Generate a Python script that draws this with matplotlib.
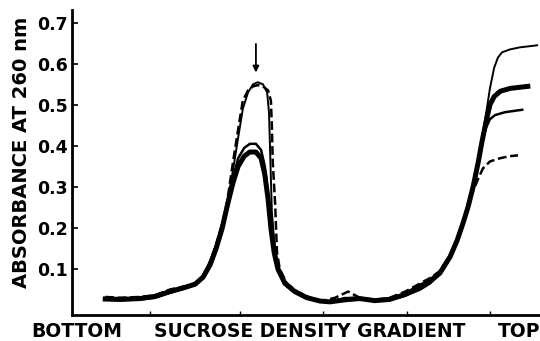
import matplotlib
matplotlib.use("Agg")
import matplotlib.pyplot as plt

# Position along the gradient (% from bottom) and absorbance at 260 nm
xA = [7.1, 10.3, 14.5, 17.7, 20.9, 24.1, 26.3, 28.0, 29.5, 30.8, 32.1, 33.1, 34.4, 35.5, 36.5, 37.6, 38.7, 39.7, 40.8,
      41.9, 42.5, 42.7, 42.9, 43.4, 43.6, 43.8, 44.4, 45.9, 48.1, 50.9, 53.4, 56.2, 59.0, 61.5, 64.7, 67.9, 71.2, 74.4,
      76.5, 78.6, 80.8, 82.3, 83.5, 84.6, 85.7, 86.8, 87.8, 89.3, 91.5, 93.6, 95.3]
yA = [0.032, 0.030, 0.032, 0.036, 0.050, 0.058, 0.062, 0.080, 0.115, 0.160, 0.210, 0.260, 0.360, 0.440, 0.510, 0.535,
      0.545, 0.548, 0.545, 0.535, 0.510, 0.450, 0.360, 0.260, 0.200, 0.140, 0.100, 0.065, 0.045, 0.030, 0.022, 0.030,
      0.045, 0.030, 0.025, 0.030, 0.045, 0.065, 0.078, 0.095, 0.135, 0.170, 0.210, 0.250, 0.290, 0.320, 0.345, 0.362,
      0.370, 0.375, 0.377]

xB = [7.1, 10.3, 14.5, 17.7, 20.9, 24.1, 26.3, 28.0, 29.5, 30.8, 32.1, 33.3, 34.4, 35.5, 36.5, 37.6, 38.7, 39.7, 40.8,
      41.7, 42.1, 42.3, 42.5, 42.7, 43.2, 43.8, 44.9, 46.6, 48.7, 50.9, 53.4, 55.6, 58.3, 61.5, 64.7, 67.9, 71.2, 74.4,
      76.5, 78.6, 80.8, 82.3, 83.5, 84.6, 85.7, 86.8, 87.6, 88.5, 89.3, 90.2, 91.0, 91.9, 93.6, 95.7, 99.4]
yB = [0.030, 0.029, 0.030, 0.036, 0.048, 0.057, 0.066, 0.085, 0.120, 0.160, 0.210, 0.270, 0.340, 0.420, 0.490, 0.530,
      0.550, 0.555, 0.550, 0.530, 0.480, 0.400, 0.320, 0.240, 0.170, 0.120, 0.080, 0.055, 0.040, 0.030, 0.022, 0.021,
      0.030, 0.030, 0.025, 0.028, 0.040, 0.062, 0.075, 0.095, 0.135, 0.175, 0.215, 0.260, 0.310, 0.370, 0.420, 0.480,
      0.540, 0.590, 0.615, 0.628, 0.635, 0.640, 0.645]

xC = [7.1, 10.3, 14.5, 17.7, 20.9, 24.1, 26.3, 28.0, 29.5, 30.8, 32.1, 33.3, 34.4, 35.5, 36.8, 38.0, 39.3, 40.4, 41.2,
      41.9, 42.5, 43.2, 44.0, 45.5, 47.6, 50.2, 53.0, 55.1, 58.3, 61.5, 64.7, 67.9, 71.2, 74.4, 76.5, 78.6, 80.8, 82.3,
      83.5, 84.6, 85.7, 86.8, 87.6, 88.5, 89.3, 90.4, 92.5, 96.2]
yC = [0.025, 0.024, 0.026, 0.030, 0.042, 0.053, 0.062, 0.080, 0.110, 0.150, 0.200, 0.270, 0.320, 0.370, 0.395, 0.405,
      0.405, 0.390, 0.350, 0.280, 0.200, 0.140, 0.100, 0.065, 0.045, 0.030, 0.021, 0.020, 0.028, 0.030, 0.022, 0.025,
      0.035, 0.050, 0.065, 0.088, 0.128, 0.168, 0.210, 0.250, 0.300, 0.360, 0.410, 0.445, 0.465, 0.475, 0.482, 0.488]

xD = [7.1, 10.3, 14.5, 17.7, 20.9, 24.1, 26.3, 28.0, 29.5, 30.8, 32.1, 33.3, 34.4, 35.5, 36.8, 38.0, 39.3, 40.4, 41.2,
      41.9, 42.5, 43.2, 44.0, 45.5, 47.6, 50.2, 53.0, 55.1, 58.3, 61.5, 64.7, 67.9, 71.2, 74.4, 76.5, 78.6, 80.8, 82.3,
      83.5, 84.6, 85.7, 86.8, 87.6, 88.5, 89.3, 90.2, 91.5, 93.6, 97.4]
yD = [0.027, 0.026, 0.028, 0.033, 0.045, 0.055, 0.063, 0.080, 0.110, 0.150, 0.200, 0.260, 0.310, 0.350, 0.375, 0.385,
      0.385, 0.370, 0.330, 0.270, 0.200, 0.140, 0.100, 0.065, 0.045, 0.030, 0.022, 0.020, 0.025, 0.028, 0.023, 0.026,
      0.038, 0.058, 0.070, 0.090, 0.130, 0.170, 0.210, 0.250, 0.300, 0.360, 0.410, 0.460, 0.500, 0.520, 0.533, 0.540,
      0.545]

yticks = [0.1, 0.2, 0.3, 0.4, 0.5, 0.6, 0.7]
ytick_labels = ["0.1", "0.2", "0.3", "0.4", "0.5", "0.6", "0.7"]
xticks = [16.7, 35.9, 53.6, 71.6, 89.3]
arrow_x = 39.3

FONT = "DejaVu Sans"

fig = plt.figure(figsize=(5.4, 3.41), dpi=100)
ax = fig.add_axes([72 / 540, 26 / 341, 1 - 72 / 540, (315 - 10) / 341])

ax.plot(xA, yA, color="black", lw=1.8, ls=(0, (3.5, 1.5)), clip_on=False)
ax.plot(xB, yB, color="black", lw=1.4, clip_on=False)
ax.plot(xC, yC, color="black", lw=1.8, clip_on=False)
ax.plot(xD, yD, color="black", lw=3.6, clip_on=False)

ax.annotate("", xy=(arrow_x, 0.572), xytext=(arrow_x, 0.655),
            arrowprops=dict(arrowstyle="-|>", color="black", lw=1.3, mutation_scale=9))

ax.set_xlim(0, 100)
ax.set_ylim(-0.012, 0.731)
for s in ["top", "right"]:
    ax.spines[s].set_visible(False)
for s in ["left", "bottom"]:
    ax.spines[s].set_linewidth(2.0)

ax.set_yticks(yticks)
ax.set_yticklabels(ytick_labels, fontfamily=FONT, fontweight="bold", fontsize=12.5)
ax.set_xticks(xticks)
ax.set_xticklabels([])
ax.tick_params(axis="y", direction="in", length=4, width=1.2, pad=3)
ax.tick_params(axis="x", direction="in", length=3, width=1.0)

fig.text(22 / 540, 1 - 152 / 341, "ABSORBANCE AT 260 nm", rotation=90, ha="center", va="center",
         fontfamily=FONT, fontweight="bold", fontsize=14)
fig.text(31 / 540, 0.012, "BOTTOM", ha="left", va="baseline", fontfamily=FONT, fontweight="bold", fontsize=13.5)
fig.text(310 / 540, 0.012, "SUCROSE DENSITY GRADIENT", ha="center", va="baseline", fontfamily=FONT,
         fontweight="bold", fontsize=13.5)
fig.text(1.0, 0.012, "TOP", ha="right", va="baseline", fontfamily=FONT, fontweight="bold", fontsize=13.5)

fig.savefig("out.png", dpi=100)
